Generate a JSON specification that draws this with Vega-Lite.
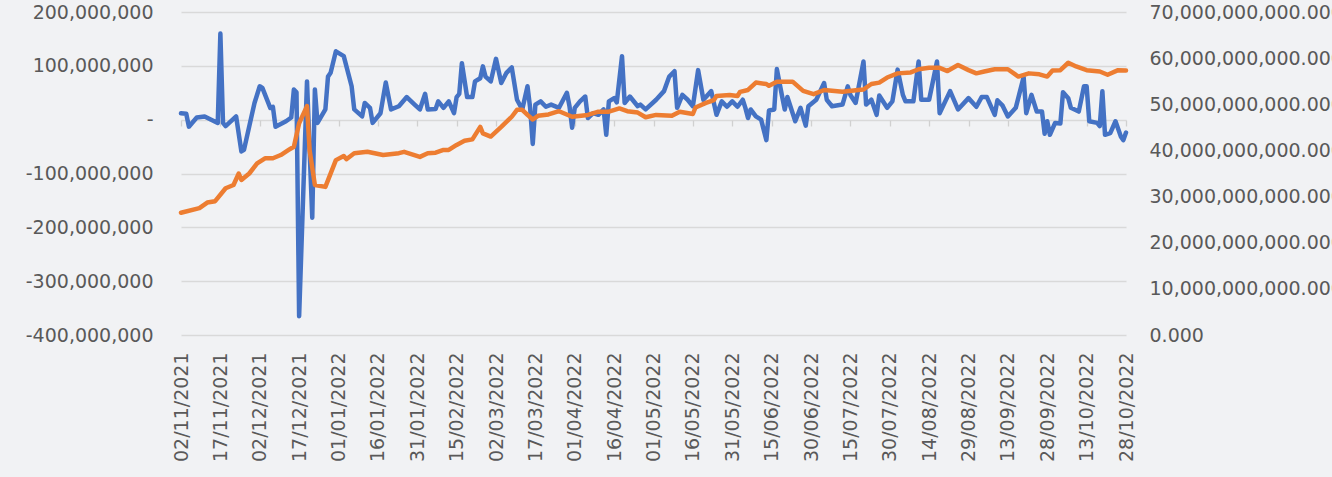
{
  "$schema": "https://vega.github.io/schema/vega-lite/v6.json",
  "width": 945,
  "height": 323,
  "autosize": {"type": "none"},
  "padding": {"left": 181, "top": 12, "right": 206, "bottom": 142},
  "background": "#f1f2f4",
  "config": {
    "view": {"stroke": null},
    "axis": {"labelFont": "DejaVu Sans", "labelFontSize": 19, "labelColor": "#595959", "labelLimit": 0}
  },
  "datasets": {
    "flow": [
      {"date": "2021-11-02", "value": 12000000},
      {"date": "2021-11-04", "value": 11000000},
      {"date": "2021-11-05", "value": -13000000},
      {"date": "2021-11-08", "value": 4000000},
      {"date": "2021-11-11", "value": 6000000},
      {"date": "2021-11-16", "value": -6000000},
      {"date": "2021-11-17", "value": 160000000},
      {"date": "2021-11-18", "value": -6000000},
      {"date": "2021-11-19", "value": -12000000},
      {"date": "2021-11-23", "value": 6000000},
      {"date": "2021-11-25", "value": -59000000},
      {"date": "2021-11-26", "value": -56000000},
      {"date": "2021-11-30", "value": 31000000},
      {"date": "2021-12-02", "value": 62000000},
      {"date": "2021-12-03", "value": 59000000},
      {"date": "2021-12-06", "value": 22000000},
      {"date": "2021-12-07", "value": 24000000},
      {"date": "2021-12-08", "value": -13000000},
      {"date": "2021-12-12", "value": -3000000},
      {"date": "2021-12-14", "value": 4000000},
      {"date": "2021-12-15", "value": 56000000},
      {"date": "2021-12-16", "value": 51000000},
      {"date": "2021-12-17", "value": -365000000},
      {"date": "2021-12-20", "value": 71000000},
      {"date": "2021-12-22", "value": -182000000},
      {"date": "2021-12-23", "value": 56000000},
      {"date": "2021-12-24", "value": -6000000},
      {"date": "2021-12-27", "value": 19000000},
      {"date": "2021-12-28", "value": 80000000},
      {"date": "2021-12-29", "value": 87000000},
      {"date": "2021-12-31", "value": 127000000},
      {"date": "2022-01-03", "value": 118000000},
      {"date": "2022-01-06", "value": 62000000},
      {"date": "2022-01-07", "value": 19000000},
      {"date": "2022-01-10", "value": 6000000},
      {"date": "2022-01-11", "value": 31000000},
      {"date": "2022-01-13", "value": 22000000},
      {"date": "2022-01-14", "value": -6000000},
      {"date": "2022-01-17", "value": 12000000},
      {"date": "2022-01-19", "value": 69000000},
      {"date": "2022-01-21", "value": 19000000},
      {"date": "2022-01-24", "value": 25000000},
      {"date": "2022-01-27", "value": 42000000},
      {"date": "2022-01-30", "value": 28000000},
      {"date": "2022-02-01", "value": 19000000},
      {"date": "2022-02-03", "value": 48000000},
      {"date": "2022-02-04", "value": 19000000},
      {"date": "2022-02-07", "value": 20000000},
      {"date": "2022-02-08", "value": 34000000},
      {"date": "2022-02-10", "value": 22000000},
      {"date": "2022-02-12", "value": 34000000},
      {"date": "2022-02-14", "value": 12000000},
      {"date": "2022-02-15", "value": 42000000},
      {"date": "2022-02-16", "value": 48000000},
      {"date": "2022-02-17", "value": 105000000},
      {"date": "2022-02-19", "value": 42000000},
      {"date": "2022-02-21", "value": 42000000},
      {"date": "2022-02-22", "value": 71000000},
      {"date": "2022-02-24", "value": 77000000},
      {"date": "2022-02-25", "value": 99000000},
      {"date": "2022-02-26", "value": 80000000},
      {"date": "2022-02-28", "value": 71000000},
      {"date": "2022-03-02", "value": 113000000},
      {"date": "2022-03-04", "value": 68000000},
      {"date": "2022-03-06", "value": 87000000},
      {"date": "2022-03-08", "value": 97000000},
      {"date": "2022-03-10", "value": 37000000},
      {"date": "2022-03-12", "value": 19000000},
      {"date": "2022-03-14", "value": 62000000},
      {"date": "2022-03-15", "value": 22000000},
      {"date": "2022-03-16", "value": -45000000},
      {"date": "2022-03-17", "value": 28000000},
      {"date": "2022-03-19", "value": 34000000},
      {"date": "2022-03-21", "value": 24000000},
      {"date": "2022-03-23", "value": 28000000},
      {"date": "2022-03-26", "value": 22000000},
      {"date": "2022-03-29", "value": 50000000},
      {"date": "2022-03-30", "value": 25000000},
      {"date": "2022-03-31", "value": -15000000},
      {"date": "2022-04-01", "value": 22000000},
      {"date": "2022-04-03", "value": 34000000},
      {"date": "2022-04-05", "value": 43000000},
      {"date": "2022-04-06", "value": 3000000},
      {"date": "2022-04-08", "value": 12000000},
      {"date": "2022-04-10", "value": 9000000},
      {"date": "2022-04-12", "value": 19000000},
      {"date": "2022-04-13", "value": -28000000},
      {"date": "2022-04-14", "value": 34000000},
      {"date": "2022-04-16", "value": 40000000},
      {"date": "2022-04-17", "value": 32000000},
      {"date": "2022-04-19", "value": 118000000},
      {"date": "2022-04-20", "value": 31000000},
      {"date": "2022-04-22", "value": 43000000},
      {"date": "2022-04-25", "value": 25000000},
      {"date": "2022-04-26", "value": 28000000},
      {"date": "2022-04-28", "value": 19000000},
      {"date": "2022-05-02", "value": 37000000},
      {"date": "2022-05-05", "value": 53000000},
      {"date": "2022-05-07", "value": 80000000},
      {"date": "2022-05-09", "value": 90000000},
      {"date": "2022-05-10", "value": 22000000},
      {"date": "2022-05-12", "value": 46000000},
      {"date": "2022-05-14", "value": 37000000},
      {"date": "2022-05-16", "value": 25000000},
      {"date": "2022-05-18", "value": 92000000},
      {"date": "2022-05-20", "value": 37000000},
      {"date": "2022-05-23", "value": 53000000},
      {"date": "2022-05-25", "value": 9000000},
      {"date": "2022-05-27", "value": 34000000},
      {"date": "2022-05-29", "value": 24000000},
      {"date": "2022-05-31", "value": 34000000},
      {"date": "2022-06-02", "value": 24000000},
      {"date": "2022-06-04", "value": 37000000},
      {"date": "2022-06-05", "value": 22000000},
      {"date": "2022-06-06", "value": 3000000},
      {"date": "2022-06-07", "value": 19000000},
      {"date": "2022-06-09", "value": 6000000},
      {"date": "2022-06-11", "value": 0},
      {"date": "2022-06-13", "value": -38000000},
      {"date": "2022-06-14", "value": 17000000},
      {"date": "2022-06-16", "value": 19000000},
      {"date": "2022-06-17", "value": 94000000},
      {"date": "2022-06-19", "value": 43000000},
      {"date": "2022-06-20", "value": 19000000},
      {"date": "2022-06-21", "value": 42000000},
      {"date": "2022-06-24", "value": -3000000},
      {"date": "2022-06-26", "value": 22000000},
      {"date": "2022-06-28", "value": -11000000},
      {"date": "2022-06-29", "value": 25000000},
      {"date": "2022-07-02", "value": 37000000},
      {"date": "2022-07-05", "value": 68000000},
      {"date": "2022-07-06", "value": 37000000},
      {"date": "2022-07-08", "value": 25000000},
      {"date": "2022-07-12", "value": 28000000},
      {"date": "2022-07-14", "value": 62000000},
      {"date": "2022-07-15", "value": 46000000},
      {"date": "2022-07-17", "value": 31000000},
      {"date": "2022-07-20", "value": 108000000},
      {"date": "2022-07-21", "value": 28000000},
      {"date": "2022-07-23", "value": 37000000},
      {"date": "2022-07-25", "value": 9000000},
      {"date": "2022-07-26", "value": 45000000},
      {"date": "2022-07-29", "value": 22000000},
      {"date": "2022-07-31", "value": 34000000},
      {"date": "2022-08-02", "value": 93000000},
      {"date": "2022-08-04", "value": 46000000},
      {"date": "2022-08-05", "value": 34000000},
      {"date": "2022-08-08", "value": 34000000},
      {"date": "2022-08-10", "value": 108000000},
      {"date": "2022-08-11", "value": 37000000},
      {"date": "2022-08-14", "value": 37000000},
      {"date": "2022-08-17", "value": 108000000},
      {"date": "2022-08-18", "value": 12000000},
      {"date": "2022-08-22", "value": 53000000},
      {"date": "2022-08-25", "value": 19000000},
      {"date": "2022-08-29", "value": 40000000},
      {"date": "2022-09-01", "value": 24000000},
      {"date": "2022-09-03", "value": 42000000},
      {"date": "2022-09-05", "value": 42000000},
      {"date": "2022-09-08", "value": 9000000},
      {"date": "2022-09-09", "value": 36000000},
      {"date": "2022-09-11", "value": 26000000},
      {"date": "2022-09-13", "value": 6000000},
      {"date": "2022-09-16", "value": 22000000},
      {"date": "2022-09-19", "value": 79000000},
      {"date": "2022-09-20", "value": 12000000},
      {"date": "2022-09-22", "value": 46000000},
      {"date": "2022-09-24", "value": 15000000},
      {"date": "2022-09-26", "value": 15000000},
      {"date": "2022-09-27", "value": -26000000},
      {"date": "2022-09-28", "value": -3000000},
      {"date": "2022-09-29", "value": -28000000},
      {"date": "2022-10-01", "value": -6000000},
      {"date": "2022-10-03", "value": -7000000},
      {"date": "2022-10-04", "value": 51000000},
      {"date": "2022-10-06", "value": 40000000},
      {"date": "2022-10-07", "value": 22000000},
      {"date": "2022-10-10", "value": 15000000},
      {"date": "2022-10-12", "value": 62000000},
      {"date": "2022-10-13", "value": 62000000},
      {"date": "2022-10-14", "value": -3000000},
      {"date": "2022-10-17", "value": -6000000},
      {"date": "2022-10-18", "value": -12000000},
      {"date": "2022-10-19", "value": 53000000},
      {"date": "2022-10-20", "value": -28000000},
      {"date": "2022-10-22", "value": -25000000},
      {"date": "2022-10-24", "value": -3000000},
      {"date": "2022-10-26", "value": -31000000},
      {"date": "2022-10-27", "value": -38000000},
      {"date": "2022-10-28", "value": -24000000}
    ],
    "total": [
      {"date": "2021-11-02", "value": 26500000000},
      {"date": "2021-11-09", "value": 27500000000},
      {"date": "2021-11-12", "value": 28700000000},
      {"date": "2021-11-15", "value": 29000000000},
      {"date": "2021-11-19", "value": 31800000000},
      {"date": "2021-11-22", "value": 32500000000},
      {"date": "2021-11-24", "value": 35000000000},
      {"date": "2021-11-25", "value": 33600000000},
      {"date": "2021-11-28", "value": 35000000000},
      {"date": "2021-12-01", "value": 37200000000},
      {"date": "2021-12-04", "value": 38300000000},
      {"date": "2021-12-07", "value": 38300000000},
      {"date": "2021-12-10", "value": 39000000000},
      {"date": "2021-12-13", "value": 40100000000},
      {"date": "2021-12-15", "value": 40800000000},
      {"date": "2021-12-17", "value": 45900000000},
      {"date": "2021-12-20", "value": 49600000000},
      {"date": "2021-12-21", "value": 40000000000},
      {"date": "2021-12-23", "value": 32500000000},
      {"date": "2021-12-27", "value": 32100000000},
      {"date": "2021-12-31", "value": 37900000000},
      {"date": "2022-01-03", "value": 38800000000},
      {"date": "2022-01-04", "value": 38100000000},
      {"date": "2022-01-07", "value": 39400000000},
      {"date": "2022-01-12", "value": 39700000000},
      {"date": "2022-01-18", "value": 39000000000},
      {"date": "2022-01-24", "value": 39400000000},
      {"date": "2022-01-26", "value": 39700000000},
      {"date": "2022-02-01", "value": 38600000000},
      {"date": "2022-02-04", "value": 39400000000},
      {"date": "2022-02-07", "value": 39500000000},
      {"date": "2022-02-10", "value": 40100000000},
      {"date": "2022-02-12", "value": 40100000000},
      {"date": "2022-02-15", "value": 41200000000},
      {"date": "2022-02-18", "value": 42100000000},
      {"date": "2022-02-21", "value": 42400000000},
      {"date": "2022-02-24", "value": 45100000000},
      {"date": "2022-02-25", "value": 43700000000},
      {"date": "2022-02-28", "value": 43000000000},
      {"date": "2022-03-04", "value": 45100000000},
      {"date": "2022-03-08", "value": 47300000000},
      {"date": "2022-03-10", "value": 48800000000},
      {"date": "2022-03-12", "value": 48800000000},
      {"date": "2022-03-14", "value": 47700000000},
      {"date": "2022-03-16", "value": 46700000000},
      {"date": "2022-03-18", "value": 47500000000},
      {"date": "2022-03-22", "value": 47800000000},
      {"date": "2022-03-26", "value": 48500000000},
      {"date": "2022-03-31", "value": 47300000000},
      {"date": "2022-04-06", "value": 47700000000},
      {"date": "2022-04-10", "value": 48400000000},
      {"date": "2022-04-14", "value": 48400000000},
      {"date": "2022-04-18", "value": 49100000000},
      {"date": "2022-04-21", "value": 48500000000},
      {"date": "2022-04-25", "value": 48200000000},
      {"date": "2022-04-28", "value": 47200000000},
      {"date": "2022-05-02", "value": 47700000000},
      {"date": "2022-05-08", "value": 47500000000},
      {"date": "2022-05-11", "value": 48400000000},
      {"date": "2022-05-16", "value": 47900000000},
      {"date": "2022-05-17", "value": 49300000000},
      {"date": "2022-05-21", "value": 50300000000},
      {"date": "2022-05-24", "value": 50900000000},
      {"date": "2022-05-25", "value": 51800000000},
      {"date": "2022-05-30", "value": 52000000000},
      {"date": "2022-06-02", "value": 51800000000},
      {"date": "2022-06-03", "value": 52700000000},
      {"date": "2022-06-06", "value": 53100000000},
      {"date": "2022-06-09", "value": 54700000000},
      {"date": "2022-06-13", "value": 54400000000},
      {"date": "2022-06-14", "value": 54000000000},
      {"date": "2022-06-17", "value": 54900000000},
      {"date": "2022-06-23", "value": 54900000000},
      {"date": "2022-06-27", "value": 52900000000},
      {"date": "2022-07-01", "value": 52200000000},
      {"date": "2022-07-05", "value": 53100000000},
      {"date": "2022-07-12", "value": 52700000000},
      {"date": "2022-07-18", "value": 53100000000},
      {"date": "2022-07-20", "value": 53200000000},
      {"date": "2022-07-23", "value": 54400000000},
      {"date": "2022-07-26", "value": 54700000000},
      {"date": "2022-07-29", "value": 55800000000},
      {"date": "2022-08-02", "value": 56700000000},
      {"date": "2022-08-07", "value": 56900000000},
      {"date": "2022-08-10", "value": 57600000000},
      {"date": "2022-08-14", "value": 57900000000},
      {"date": "2022-08-18", "value": 57900000000},
      {"date": "2022-08-21", "value": 57200000000},
      {"date": "2022-08-25", "value": 58500000000},
      {"date": "2022-08-29", "value": 57400000000},
      {"date": "2022-09-01", "value": 56700000000},
      {"date": "2022-09-04", "value": 57100000000},
      {"date": "2022-09-08", "value": 57600000000},
      {"date": "2022-09-13", "value": 57600000000},
      {"date": "2022-09-17", "value": 56000000000},
      {"date": "2022-09-21", "value": 56700000000},
      {"date": "2022-09-25", "value": 56500000000},
      {"date": "2022-09-28", "value": 56000000000},
      {"date": "2022-09-30", "value": 57300000000},
      {"date": "2022-10-03", "value": 57400000000},
      {"date": "2022-10-06", "value": 59000000000},
      {"date": "2022-10-09", "value": 58200000000},
      {"date": "2022-10-13", "value": 57400000000},
      {"date": "2022-10-18", "value": 57100000000},
      {"date": "2022-10-21", "value": 56400000000},
      {"date": "2022-10-25", "value": 57400000000},
      {"date": "2022-10-28", "value": 57300000000}
    ]
  },
  "layer": [
    {
      "data": {"name": "flow"},
      "mark": {"type": "line", "color": "#4472C4", "strokeWidth": 4.5, "strokeJoin": "round", "strokeCap": "round"},
      "encoding": {
        "x": {
          "field": "date", "type": "temporal",
          "scale": {"type": "utc", "domain": [{"year": 2021, "month": 11, "date": 2, "utc": true}, {"year": 2022, "month": 10, "date": 28, "utc": true}]},
          "axis": {
            "orient": "bottom", "title": null,
            "labelExpr": "utcFormat(datum.value, '%d/%m/%Y')",
            "labelAngle": -90, "labelPadding": 17, "labelFlush": false, "labelOverlap": false, "labelBound": false,
            "domain": false, "ticks": false, "grid": false,
            "values": [
              {"year": 2021, "month": 11, "date": 2, "utc": true},
              {"year": 2021, "month": 11, "date": 17, "utc": true},
              {"year": 2021, "month": 12, "date": 2, "utc": true},
              {"year": 2021, "month": 12, "date": 17, "utc": true},
              {"year": 2022, "month": 1, "date": 1, "utc": true},
              {"year": 2022, "month": 1, "date": 16, "utc": true},
              {"year": 2022, "month": 1, "date": 31, "utc": true},
              {"year": 2022, "month": 2, "date": 15, "utc": true},
              {"year": 2022, "month": 3, "date": 2, "utc": true},
              {"year": 2022, "month": 3, "date": 17, "utc": true},
              {"year": 2022, "month": 4, "date": 1, "utc": true},
              {"year": 2022, "month": 4, "date": 16, "utc": true},
              {"year": 2022, "month": 5, "date": 1, "utc": true},
              {"year": 2022, "month": 5, "date": 16, "utc": true},
              {"year": 2022, "month": 5, "date": 31, "utc": true},
              {"year": 2022, "month": 6, "date": 15, "utc": true},
              {"year": 2022, "month": 6, "date": 30, "utc": true},
              {"year": 2022, "month": 7, "date": 15, "utc": true},
              {"year": 2022, "month": 7, "date": 30, "utc": true},
              {"year": 2022, "month": 8, "date": 14, "utc": true},
              {"year": 2022, "month": 8, "date": 29, "utc": true},
              {"year": 2022, "month": 9, "date": 13, "utc": true},
              {"year": 2022, "month": 9, "date": 28, "utc": true},
              {"year": 2022, "month": 10, "date": 13, "utc": true},
              {"year": 2022, "month": 10, "date": 28, "utc": true}
            ]
          }
        },
        "y": {
          "field": "value", "type": "quantitative",
          "scale": {"domain": [-400000000, 200000000], "nice": false, "zero": false},
          "axis": {
            "orient": "left", "title": null,
            "values": [-400000000, -300000000, -200000000, -100000000, 0, 100000000, 200000000],
            "labelExpr": "datum.value == 0 ? '-\u00a0\u00a0' : replace(format(datum.value, ',.0f'), '\u2212', '-')",
            "labelPadding": 28, "domain": false, "ticks": false,
            "grid": true, "gridColor": "#d9d9d9", "gridWidth": 1.3
          }
        }
      }
    },
    {
      "data": {"name": "total"},
      "mark": {"type": "line", "color": "#ED7D31", "strokeWidth": 4.5, "strokeJoin": "round", "strokeCap": "round"},
      "encoding": {
        "x": {
          "field": "date", "type": "temporal",
          "axis": {
            "orient": "bottom", "offset": -215, "title": null, "labels": false,
            "domain": false, "grid": false, "ticks": true, "tickSize": 6, "tickWidth": 1.3, "tickColor": "#d0d0d0",
            "values": [
              {"year": 2021, "month": 11, "date": 2, "utc": true},
              {"year": 2021, "month": 11, "date": 17, "utc": true},
              {"year": 2021, "month": 12, "date": 2, "utc": true},
              {"year": 2021, "month": 12, "date": 17, "utc": true},
              {"year": 2022, "month": 1, "date": 1, "utc": true},
              {"year": 2022, "month": 1, "date": 16, "utc": true},
              {"year": 2022, "month": 1, "date": 31, "utc": true},
              {"year": 2022, "month": 2, "date": 15, "utc": true},
              {"year": 2022, "month": 3, "date": 2, "utc": true},
              {"year": 2022, "month": 3, "date": 17, "utc": true},
              {"year": 2022, "month": 4, "date": 1, "utc": true},
              {"year": 2022, "month": 4, "date": 16, "utc": true},
              {"year": 2022, "month": 5, "date": 1, "utc": true},
              {"year": 2022, "month": 5, "date": 16, "utc": true},
              {"year": 2022, "month": 5, "date": 31, "utc": true},
              {"year": 2022, "month": 6, "date": 15, "utc": true},
              {"year": 2022, "month": 6, "date": 30, "utc": true},
              {"year": 2022, "month": 7, "date": 15, "utc": true},
              {"year": 2022, "month": 7, "date": 30, "utc": true},
              {"year": 2022, "month": 8, "date": 14, "utc": true},
              {"year": 2022, "month": 8, "date": 29, "utc": true},
              {"year": 2022, "month": 9, "date": 13, "utc": true},
              {"year": 2022, "month": 9, "date": 28, "utc": true},
              {"year": 2022, "month": 10, "date": 13, "utc": true},
              {"year": 2022, "month": 10, "date": 28, "utc": true}
            ]
          }
        },
        "y": {
          "field": "value", "type": "quantitative",
          "scale": {"domain": [0, 70000000000], "nice": false},
          "axis": {
            "orient": "right", "title": null,
            "values": [0, 10000000000, 20000000000, 30000000000, 40000000000, 50000000000, 60000000000, 70000000000],
            "format": ",.3f", "labelPadding": 23, "domain": false, "ticks": false, "grid": false
          }
        }
      }
    }
  ],
  "resolve": {"scale": {"y": "independent"}, "axis": {"x": "independent"}}
}
